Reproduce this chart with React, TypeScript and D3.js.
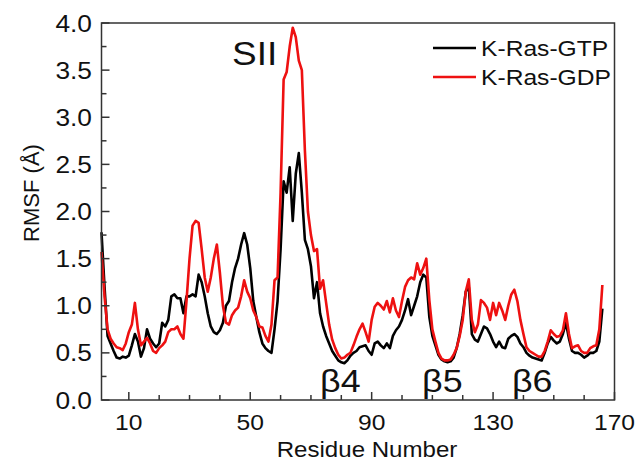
import { useEffect, useRef } from "react";
import * as d3 from "d3";

// residue numbers 1..166 shared by both series
const residues = d3.range(1, 167);

// K-Ras-GTP RMSF (Å), one value per residue
const gtpRmsf = [
  1.78, 1.2, 0.68, 0.6, 0.52, 0.45, 0.44, 0.46, 0.45, 0.47,
  0.58, 0.7, 0.62, 0.46, 0.55, 0.75, 0.65, 0.6, 0.56, 0.6,
  0.82, 0.78, 0.85, 1.1, 1.12, 1.08, 1.08, 0.92, 1.1, 1.1,
  1.12, 1.1, 1.33, 1.25, 1.1, 0.92, 0.78, 0.72, 0.7, 0.74,
  0.82, 1.0, 1.05, 1.25, 1.4, 1.5, 1.65, 1.77, 1.65, 1.4,
  1.05, 0.88, 0.72, 0.6, 0.55, 0.52, 0.5, 0.75, 1.05, 1.6,
  2.32, 2.2, 2.47, 1.9, 2.4, 2.62, 2.2, 1.7, 1.6, 1.42,
  1.08, 1.25, 0.92, 0.78, 0.68, 0.6, 0.52, 0.47, 0.42, 0.4,
  0.39, 0.42, 0.47, 0.5, 0.52, 0.56, 0.57, 0.58, 0.52, 0.48,
  0.6, 0.62, 0.58, 0.55, 0.6, 0.55, 0.68, 0.74, 0.78, 0.85,
  0.95, 1.07, 0.9, 1.0, 1.1, 1.25, 1.33, 1.3, 0.88, 0.68,
  0.58, 0.48, 0.43, 0.41, 0.4, 0.41, 0.45, 0.55, 0.7, 0.9,
  1.15, 1.2, 0.7, 0.64, 0.62, 0.7, 0.78, 0.76, 0.7, 0.62,
  0.56, 0.62, 0.56, 0.55, 0.65, 0.68, 0.7, 0.67, 0.6, 0.56,
  0.5, 0.47, 0.45, 0.44, 0.43, 0.42, 0.5, 0.6, 0.67, 0.63,
  0.6, 0.62, 0.7, 0.82, 0.65, 0.52, 0.5, 0.5, 0.48, 0.45,
  0.47, 0.5, 0.5, 0.52, 0.62, 0.97,
];

// K-Ras-GDP RMSF (Å)
const gdpRmsf = [
  1.57, 1.1, 0.75, 0.65, 0.6, 0.56, 0.55, 0.53, 0.6, 0.72,
  0.8, 1.03, 0.75, 0.58, 0.62, 0.66, 0.6, 0.52, 0.5, 0.55,
  0.58, 0.62, 0.72, 0.75, 0.75, 0.78, 0.7, 0.65, 1.05, 1.5,
  1.85, 1.9, 1.88, 1.6, 1.3, 1.15, 1.3, 1.5, 1.65, 1.35,
  1.0, 0.82, 0.8, 0.9, 0.95, 0.98, 1.1, 1.27, 1.15, 1.08,
  0.95, 0.88, 0.78, 0.77, 0.68, 0.62, 0.8, 1.27, 1.3, 2.2,
  3.4, 3.48, 3.75, 3.95, 3.85, 3.6, 3.5, 2.65, 2.0, 1.75,
  1.58, 1.6, 1.18, 1.27, 1.03, 0.8, 0.64, 0.55, 0.48, 0.44,
  0.45, 0.48, 0.5, 0.58, 0.67, 0.75, 0.81, 0.72, 0.62, 0.85,
  0.99, 1.03, 1.0, 0.96, 1.05, 0.93, 1.08, 0.95, 0.88, 1.05,
  1.2, 1.27, 1.3, 1.28, 1.45, 1.33, 1.4, 1.5, 1.06, 0.75,
  0.62, 0.5, 0.44, 0.42, 0.42, 0.43, 0.48, 0.55, 0.68, 0.85,
  1.15, 1.28, 0.85, 0.72, 0.8, 1.06, 1.03, 0.98, 0.85, 1.03,
  0.9, 1.03, 0.95, 0.85, 1.0, 1.12, 1.17, 1.05, 0.85, 0.7,
  0.56, 0.52, 0.5, 0.48, 0.46, 0.46, 0.52, 0.62, 0.74, 0.7,
  0.67, 0.68, 0.74, 0.92, 0.7, 0.55, 0.57, 0.58, 0.52, 0.5,
  0.5, 0.55, 0.57, 0.58, 0.75, 1.22,
];

const xTicks = d3.range(10, 171, 10);
const xTickLabels = [10, 50, 90, 130, 170];
const yTicks = d3.range(0, 4.01, 0.25);
const yTickLabels = ["0.0", "0.5", "1.0", "1.5", "2.0", "2.5", "3.0", "3.5", "4.0"];

const regionLabels = [
  { text: "SII", residue: 44, value: 3.55, size: 33 },
  { text: "β4", residue: 73, value: 0.085, size: 32 },
  { text: "β5", residue: 106.6, value: 0.085, size: 32 },
  { text: "β6", residue: 136.2, value: 0.085, size: 32 },
];

const series = [
  { name: "K-Ras-GTP", values: gtpRmsf, color: "#000000" },
  { name: "K-Ras-GDP", values: gdpRmsf, color: "#ee1111" },
];

const FONT = "'Liberation Sans', Arial, sans-serif";
const STRETCH = 1.12;

const App = () => {
  const ref = useRef<SVGSVGElement>(null);

  useEffect(() => {
    const width = 640, height = 464;
    const left = 101.5, right = 614.5, top = 23, bottom = 400;

    const svg = d3.select(ref.current)
      .html("")
      .attr("width", width)
      .attr("height", height);

    svg.append("rect").attr("width", width).attr("height", height).attr("fill", "#fff");

    const x = d3.scaleLinear().domain([1, 170]).range([left, right]);
    const y = d3.scaleLinear().domain([0, 4]).range([bottom, top]);

    const text = (s: string, tx: number, ty: number, size: number, anchor = "start") =>
      svg.append("text")
        .attr("transform", `translate(${tx},${ty}) scale(${STRETCH},1)`)
        .attr("text-anchor", anchor)
        .style("font-family", FONT)
        .style("font-size", `${size}px`)
        .attr("fill", "#111")
        .text(s);

    // lines
    const line = d3.line<number>()
      .x((_, i) => x(residues[i]))
      .y(d => y(d))
      .curve(d3.curveLinear);

    series.forEach(s => {
      svg.append("path")
        .attr("d", line(s.values))
        .attr("fill", "none")
        .attr("stroke", s.color)
        .attr("stroke-width", 2.6)
        .attr("stroke-linejoin", "round");
    });

    // frame
    svg.append("rect")
      .attr("x", left).attr("y", top)
      .attr("width", right - left).attr("height", bottom - top)
      .attr("fill", "none").attr("stroke", "#333").attr("stroke-width", 1.5);

    // ticks (inward)
    xTicks.forEach(t => {
      const len = xTickLabels.includes(t) ? 8 : 5;
      svg.append("line")
        .attr("x1", x(t)).attr("x2", x(t))
        .attr("y1", bottom).attr("y2", bottom - len)
        .attr("stroke", "#333").attr("stroke-width", 1.5);
    });
    xTickLabels.forEach(t => text(String(t), x(t), 430, 22, "middle"));

    yTicks.forEach((t, i) => {
      const len = i % 2 === 0 ? 8 : 5;
      svg.append("line")
        .attr("x1", left).attr("x2", left + len)
        .attr("y1", y(t)).attr("y2", y(t))
        .attr("stroke", "#333").attr("stroke-width", 1.5);
    });
    yTickLabels.forEach(l => text(l, 92, y(+l) + 8.5, 23.5, "end"));

    // axis titles
    text("Residue Number", 367, 457, 21.5, "middle");
    svg.append("text")
      .attr("transform", `translate(39,193) rotate(-90)`)
      .attr("text-anchor", "middle")
      .style("font-family", FONT)
      .style("font-size", "22px")
      .attr("fill", "#111")
      .text("RMSF (Å)");

    // region labels
    regionLabels.forEach(r => text(r.text, x(r.residue), y(r.value), r.size));

    // legend
    series.forEach((s, i) => {
      const ly = 48 + i * 29;
      svg.append("line")
        .attr("x1", 433).attr("x2", 476)
        .attr("y1", ly).attr("y2", ly)
        .attr("stroke", s.color).attr("stroke-width", 2.6);
      text(s.name, 481, ly + 7.5, 22);
    });
  }, []);

  return (
    <svg
      ref={ref}
      style={{ position: "absolute", left: 0, top: 0, display: "block" }}
    ></svg>
  );
};

export default App;
